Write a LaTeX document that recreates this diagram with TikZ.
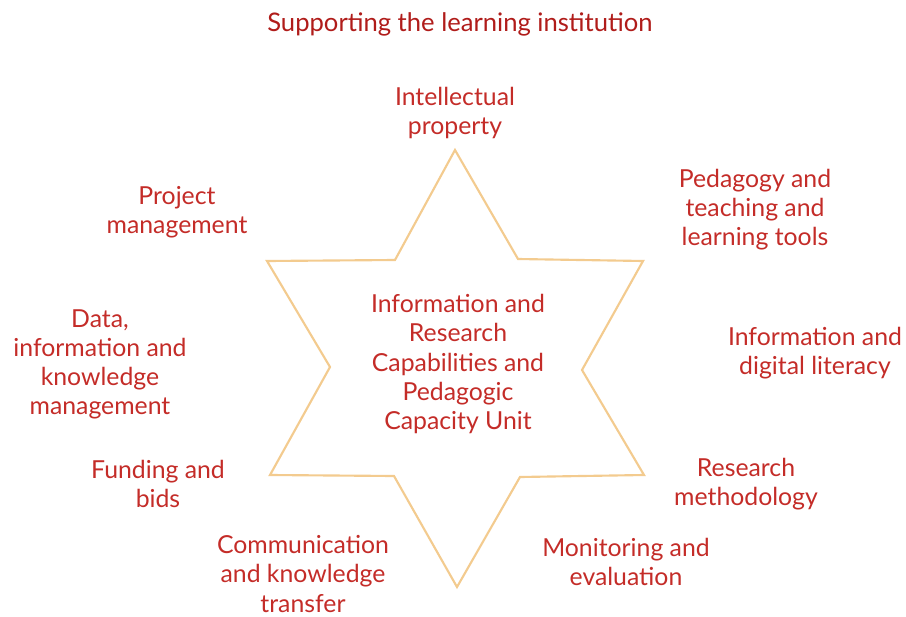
\documentclass[tikz,border=0pt]{standalone}
\usepackage{fontspec}
\setmainfont{Lato}
\usepackage{tikz}
\usetikzlibrary{positioning}
\definecolor{labelred}{RGB}{196,44,40}
\definecolor{titlered}{RGB}{176,28,26}
\definecolor{starline}{RGB}{243,203,143}
\begin{document}
\begin{tikzpicture}[x=0.75pt,y=0.75pt]
        \tikzstyle{every node}+=[inner sep=0pt]
        \tikzstyle{lbl}=[text=labelred,align=center,font=\fontsize{18.6}{21.8}\selectfont]
        \useasboundingbox (0,0) rectangle (906,-617);
        % star
        \draw [starline,line width=1.6pt,line join=miter]
          (455,-150) -- (518,-259) -- (643,-261) -- (582,-370) -- (644,-475) -- (520,-477)
          -- (457,-587) -- (394,-476) -- (270,-475) -- (330,-367) -- (267,-261) -- (395,-260) -- cycle;
        % title
        \node (title) [text=titlered,font=\fontsize{19.2}{21}\selectfont] at (460,-24) {Supporting the learning institution};
        % centre
        \node (unit) [lbl] at (458,-364) {Information and\\Research\\Capabilities and\\Pedagogic\\Capacity Unit};
        % labels round the star
        \node (ip) [lbl] at (455,-113) {Intellectual\\property};
        \node (ped) [lbl] at (755,-210) {Pedagogy and\\teaching and\\learning tools};
        \node (proj) [lbl] at (177,-212) {Project\\management};
        \node (lit) [lbl] at (815,-353) {Information and\\digital literacy};
        \node (data) [lbl] at (100,-364) {Data,\\information and\\knowledge\\management};
        \node (fund) [lbl] at (158,-484) {Funding and\\bids};
        \node (meth) [lbl] at (746,-484) {Research\\methodology};
        \node (comm) [lbl] at (303,-574) {Communication\\and knowledge\\transfer};
        \node (mon) [lbl] at (626,-562) {Monitoring and\\evaluation};
\end{tikzpicture}
\end{document}
